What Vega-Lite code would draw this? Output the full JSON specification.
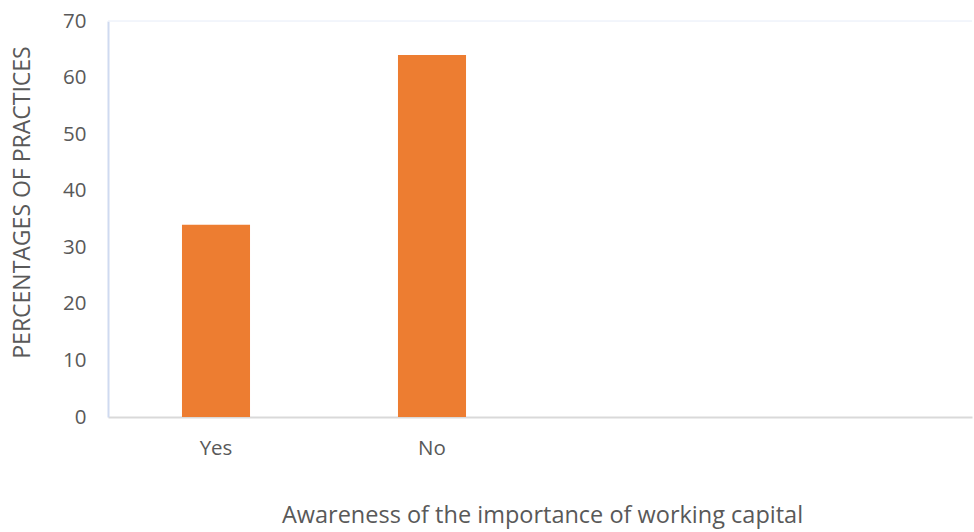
{
  "$schema": "https://vega.github.io/schema/vega-lite/v6.json",
  "width": 864,
  "height": 396,
  "autosize": {"type": "none"},
  "padding": {"left": 108, "top": 21, "right": 2, "bottom": 115},
  "background": "#ffffff",
  "config": {
    "view": {"stroke": null},
    "font": "Open Sans",
    "axis": {"labelColor": "#595959", "titleColor": "#595959", "labelFont": "Open Sans", "titleFont": "Open Sans", "titleFontWeight": "normal", "grid": false, "ticks": false, "tickSize": 0}
  },
  "data": {
    "values": [
      {"awareness": "Yes", "percent": 34},
      {"awareness": "No", "percent": 64}
    ]
  },
  "layer": [
    {
      "mark": {"type": "rule", "color": "#eef2fa", "strokeWidth": 1},
      "encoding": {"y": {"datum": 70, "type": "quantitative", "scale": {"domain": [0, 70]}}}
    },
    {
      "mark": {"type": "bar", "color": "#ED7D31"},
      "encoding": {
        "x": {
          "field": "awareness",
          "type": "nominal",
          "sort": null,
          "scale": {"domain": ["Yes", "No", " ", "  "], "paddingInner": 0.685, "paddingOuter": 0.3425},
          "axis": {
            "title": "Awareness of the importance of working capital",
            "labelAngle": 0,
            "labelFontSize": 20.5,
            "labelPadding": 31,
            "labelBaseline": "middle",
            "titleFontSize": 23.5,
            "titleX": 434,
            "titleY": 98,
            "titleBaseline": "middle",
            "titleAlign": "center",
            "domainColor": "#d9d9d9",
            "domainWidth": 2
          }
        },
        "y": {
          "field": "percent",
          "type": "quantitative",
          "scale": {"domain": [0, 70], "nice": false},
          "axis": {
            "title": "PERCENTAGES OF PRACTICES",
            "values": [0, 10, 20, 30, 40, 50, 60, 70],
            "labelFontSize": 20.5,
            "labelPadding": 22,
            "titleFontSize": 23,
            "titleAngle": -90,
            "titleX": -86,
            "titleY": 181,
            "titleAlign": "center",
            "titleBaseline": "middle",
            "domainColor": "#cfdaf0",
            "domainWidth": 2
          }
        }
      }
    }
  ]
}
